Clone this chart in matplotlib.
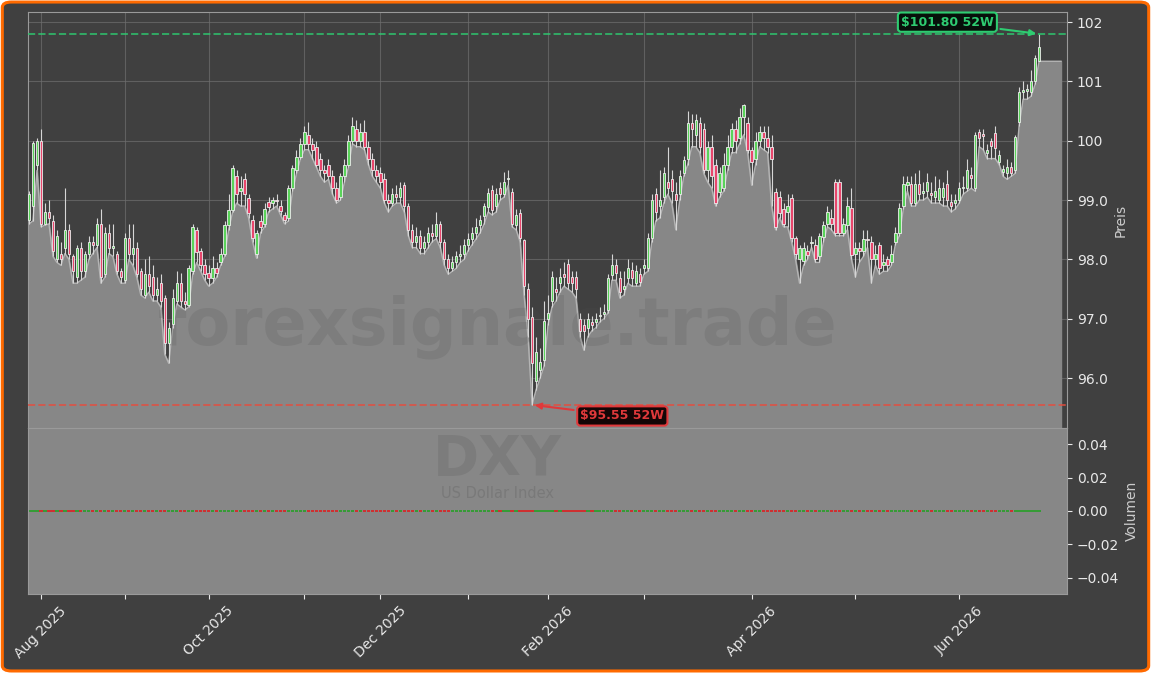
import numpy as np
import matplotlib.pyplot as plt
from matplotlib.patches import FancyBboxPatch
from matplotlib.ticker import FuncFormatter, MultipleLocator

# DXY daily candles
opens = [
    98.66, 98.90, 99.60, 100.00, 98.60, 98.80, 98.65, 98.00, 98.10, 98.20,
    98.50, 98.05, 97.70, 98.20, 97.80, 98.10, 98.30, 98.25, 98.60, 97.75,
    98.45, 98.20, 98.10, 97.80, 97.65, 98.37, 98.10, 98.20, 97.80, 97.40,
    97.75, 97.70, 97.40, 97.60, 97.35, 96.60, 96.92, 97.30, 97.60, 97.30,
    97.23, 97.80, 98.50, 98.15, 97.90, 97.78, 97.68, 97.85, 97.95, 98.10,
    98.58, 98.83, 99.40, 99.15, 99.35, 99.03, 98.66, 98.10, 98.65, 98.60,
    98.97, 98.95, 99.00, 98.90, 98.75, 98.70, 99.20, 99.50, 99.73, 99.95,
    100.10, 99.95, 99.90, 99.70, 99.50, 99.60, 99.40, 99.20, 99.05, 99.40,
    99.60, 100.00, 100.20, 100.00, 100.15, 99.90, 99.70, 99.50, 99.45, 99.35,
    99.00, 98.95, 99.10, 99.05, 99.25, 98.90, 98.50, 98.30, 98.40, 98.20,
    98.30, 98.45, 98.40, 98.60, 98.30, 98.00, 97.85, 97.95, 98.05, 98.10,
    98.25, 98.35, 98.45, 98.58, 98.74, 98.88, 99.17, 98.90, 99.20, 99.10,
    99.35, 99.13, 98.58, 98.78, 98.32, 97.50, 97.03, 95.96, 96.13, 96.30,
    97.00, 97.30, 97.50, 97.60, 97.75, 97.93, 97.70, 97.70, 97.00, 96.90,
    96.85, 96.95, 96.95, 97.05, 97.08, 97.14, 97.73, 97.90, 97.68, 97.50,
    97.68, 97.83, 97.60, 97.76, 97.85, 97.85, 98.36, 99.10, 98.90, 99.05,
    99.30, 99.35, 99.10, 99.10, 99.45, 99.70, 100.30, 100.10, 100.30, 100.20,
    99.50, 99.90, 99.60, 99.13, 99.20, 99.60, 99.90, 100.20, 100.05, 100.40,
    100.30, 99.84, 99.70, 100.00, 100.15, 100.05, 99.90, 99.13, 99.05, 98.85,
    98.80, 99.03, 98.36, 98.00, 97.98, 98.15, 98.28, 98.25, 98.05, 98.38,
    98.60, 98.70, 99.30, 99.30, 98.45, 98.58, 98.86, 98.10, 98.20, 98.15,
    98.35, 98.30, 98.00, 98.24, 97.90, 98.00, 97.95, 98.30, 98.44, 98.90,
    99.25, 99.28, 98.95, 99.27, 99.12, 99.15, 99.12, 99.05, 99.00, 99.05,
    99.27, 98.97, 98.95, 99.00, 99.20, 99.20, 99.42, 99.20, 100.15, 100.12,
    99.80, 100.00, 100.13, 99.64, 99.48, 99.45, 99.55, 99.50, 100.31, 100.82,
    100.84, 100.82, 101.00, 101.34,
]
highs = [
    99.15, 100.00, 100.05, 100.20, 98.95, 99.00, 98.75, 98.50, 98.30, 99.20,
    98.60, 98.10, 98.25, 98.30, 98.15, 98.40, 98.40, 98.70, 98.85, 98.55,
    98.60, 98.60, 98.15, 97.85, 98.45, 98.60, 98.60, 98.30, 97.85, 98.00,
    98.05, 97.90, 97.70, 97.75, 97.40, 96.95, 97.50, 97.80, 97.78, 97.45,
    97.90, 98.60, 98.55, 98.20, 98.00, 97.90, 98.05, 97.95, 98.20, 98.65,
    99.10, 99.60, 99.50, 99.40, 99.45, 99.10, 98.75, 98.50, 98.75, 98.95,
    99.05, 99.05, 99.10, 99.00, 98.80, 99.25, 99.60, 99.85, 100.05, 100.25,
    100.32, 100.05, 100.00, 99.80, 99.60, 99.70, 99.50, 99.30, 99.45, 99.70,
    100.10, 100.40, 100.35, 100.30, 100.35, 100.00, 99.80, 99.60, 99.55, 99.45,
    99.10, 99.20, 99.25, 99.30, 99.30, 98.95, 98.60, 98.55, 98.50, 98.40,
    98.55, 98.60, 98.80, 98.65, 98.35, 98.10, 98.05, 98.15, 98.25, 98.35,
    98.45, 98.55, 98.70, 98.75, 98.95, 99.20, 99.25, 99.20, 99.30, 99.47,
    99.50, 99.20, 98.85, 98.85, 98.35, 97.60, 97.20, 96.70, 96.50, 97.30,
    97.40, 97.80, 97.70, 97.85, 97.95, 98.00, 97.80, 97.80, 97.10, 97.00,
    97.10, 97.05, 97.10, 97.20, 97.25, 97.75, 98.10, 98.00, 97.80, 97.80,
    98.00, 97.95, 97.90, 97.85, 98.00, 98.45, 99.10, 99.20, 99.50, 99.55,
    99.90, 99.50, 99.30, 99.50, 99.75, 100.50, 100.45, 100.45, 100.40, 100.30,
    100.00, 100.10, 99.70, 99.55, 99.80, 100.10, 100.30, 100.35, 100.55, 100.62,
    100.40, 99.90, 100.15, 100.25, 100.25, 100.25, 100.10, 99.20, 99.15, 98.95,
    99.10, 99.10, 98.40, 98.25, 98.30, 98.25, 98.40, 98.35, 98.45, 98.65,
    98.90, 98.85, 99.35, 99.35, 98.70, 99.05, 99.20, 98.30, 98.30, 98.50,
    98.50, 98.40, 98.25, 98.30, 98.10, 98.05, 98.25, 98.55, 98.95, 99.40,
    99.40, 99.40, 99.45, 99.50, 99.30, 99.45, 99.30, 99.40, 99.35, 99.30,
    99.50, 99.10, 99.10, 99.30, 99.40, 99.70, 99.55, 100.15, 100.20, 100.20,
    99.95, 100.05, 100.25, 99.85, 99.60, 99.70, 99.65, 100.10, 100.90, 101.00,
    100.95, 101.20, 101.45, 101.80,
]
lows = [
    98.60, 98.65, 99.50, 98.55, 98.58, 98.60, 98.05, 97.95, 97.90, 98.10,
    98.00, 97.60, 97.60, 97.65, 97.70, 98.00, 98.10, 98.20, 97.60, 97.70,
    98.10, 98.05, 97.75, 97.60, 97.60, 98.00, 97.90, 97.70, 97.40, 97.35,
    97.45, 97.30, 97.30, 97.20, 96.40, 96.25, 96.85, 97.25, 97.20, 97.15,
    97.20, 97.75, 97.95, 97.80, 97.65, 97.55, 97.60, 97.70, 97.90, 98.05,
    98.50, 98.80, 98.95, 98.90, 98.90, 98.70, 98.30, 98.02, 98.45, 98.55,
    98.80, 98.85, 98.90, 98.75, 98.60, 98.65, 99.15, 99.45, 99.70, 99.85,
    99.85, 99.70, 99.55, 99.40, 99.30, 99.35, 99.10, 98.95, 99.00, 99.30,
    99.55, 99.95, 99.90, 99.90, 99.85, 99.60, 99.40, 99.30, 99.20, 98.95,
    98.80, 98.90, 98.95, 98.95, 98.80, 98.40, 98.20, 98.20, 98.10, 98.10,
    98.20, 98.30, 98.35, 98.20, 97.90, 97.75, 97.80, 97.85, 97.95, 98.00,
    98.15, 98.25, 98.35, 98.45, 98.60, 98.80, 98.75, 98.80, 99.00, 99.05,
    99.25, 98.55, 98.50, 98.30, 97.40, 96.70, 95.55, 95.80, 96.00, 96.20,
    96.90, 97.20, 97.30, 97.45, 97.55, 97.50, 97.45, 97.35, 96.70, 96.47,
    96.70, 96.80, 96.85, 96.95, 97.00, 97.10, 97.65, 97.65, 97.35, 97.40,
    97.60, 97.55, 97.55, 97.55, 97.75, 97.80, 98.30, 98.65, 98.70, 98.95,
    99.10, 98.95, 98.50, 99.00, 99.40, 99.60, 99.90, 99.90, 99.80, 99.45,
    99.30, 99.20, 98.90, 99.05, 99.15, 99.50, 99.80, 99.80, 99.95, 100.10,
    99.80, 99.25, 99.60, 99.90, 99.85, 99.80, 98.90, 98.50, 98.70, 98.55,
    98.55, 98.30, 98.00, 97.60, 97.90, 98.00, 98.20, 97.95, 97.95, 98.30,
    98.55, 98.50, 98.40, 98.40, 98.40, 98.50, 98.00, 97.70, 97.95, 98.05,
    98.20, 97.60, 97.90, 97.75, 97.80, 97.80, 97.90, 98.25, 98.40, 98.85,
    99.15, 98.90, 98.90, 99.00, 99.00, 99.05, 98.95, 98.95, 98.95, 98.90,
    98.90, 98.80, 98.85, 98.95, 99.10, 99.15, 99.20, 99.15, 99.90, 99.85,
    99.70, 99.70, 99.70, 99.60, 99.40, 99.35, 99.40, 99.45, 100.25, 100.70,
    100.70, 100.75, 100.95, 101.34,
]
closes = [
    99.10, 99.96, 100.00, 98.60, 98.80, 98.70, 98.15, 98.40, 98.00, 98.50,
    98.10, 97.80, 98.20, 97.80, 98.10, 98.30, 98.25, 98.60, 97.70, 98.45,
    98.20, 98.22, 97.80, 97.70, 98.37, 98.10, 98.20, 97.75, 97.50, 97.75,
    97.55, 97.40, 97.50, 97.30, 96.60, 96.85, 97.35, 97.60, 97.30, 97.25,
    97.85, 98.55, 98.12, 97.90, 97.75, 97.68, 97.85, 97.78, 98.10, 98.58,
    98.83, 99.54, 99.10, 99.20, 99.10, 98.78, 98.37, 98.44, 98.55, 98.85,
    98.88, 99.00, 98.98, 98.82, 98.66, 99.20, 99.54, 99.73, 99.95, 100.15,
    99.95, 99.85, 99.60, 99.50, 99.45, 99.40, 99.20, 99.00, 99.40, 99.60,
    100.00, 100.25, 100.00, 100.15, 99.90, 99.70, 99.50, 99.40, 99.30, 99.00,
    98.95, 99.10, 99.05, 99.20, 98.90, 98.50, 98.30, 98.40, 98.20, 98.30,
    98.45, 98.40, 98.60, 98.30, 98.00, 97.85, 97.95, 98.05, 98.10, 98.25,
    98.35, 98.45, 98.55, 98.66, 98.90, 99.12, 98.83, 99.10, 99.10, 99.30,
    99.38, 98.60, 98.75, 98.36, 97.56, 97.00, 96.25, 96.44, 96.27, 96.97,
    97.10, 97.70, 97.45, 97.70, 97.70, 97.60, 97.60, 97.50, 96.80, 96.80,
    97.00, 96.90, 97.00, 97.07, 97.12, 97.68, 97.90, 97.78, 97.45, 97.55,
    97.85, 97.68, 97.80, 97.62, 97.90, 98.36, 99.00, 98.80, 99.00, 99.45,
    99.20, 99.15, 99.00, 99.40, 99.67, 100.30, 100.20, 100.35, 99.90, 99.50,
    99.90, 99.40, 98.95, 99.45, 99.60, 99.90, 100.20, 100.00, 100.40, 100.60,
    99.84, 99.64, 100.00, 100.15, 100.05, 99.90, 99.70, 98.55, 98.78, 98.60,
    98.90, 98.36, 98.10, 98.20, 98.20, 98.08, 98.30, 98.00, 98.40, 98.58,
    98.80, 98.60, 98.44, 98.45, 98.60, 98.90, 98.07, 98.20, 98.15, 98.35,
    98.33, 98.00, 98.10, 97.85, 97.95, 97.90, 98.10, 98.45, 98.86, 99.28,
    99.30, 98.95, 99.28, 99.10, 99.15, 99.30, 99.08, 99.15, 99.20, 99.20,
    99.00, 98.90, 99.00, 99.20, 99.22, 99.50, 99.38, 100.10, 100.05, 100.08,
    99.85, 99.92, 99.87, 99.76, 99.52, 99.55, 99.45, 100.07, 100.82, 100.86,
    100.87, 101.00, 101.40, 101.58,
]
volumes = [0.0] * 254  # index has no volume

month_pos = [3, 24, 45, 69, 88, 110, 130, 154, 181, 207, 233]
month_labels = ["Aug 2025", "", "Oct 2025", "", "Dec 2025", "",
                "Feb 2026", "", "Apr 2026", "", "Jun 2026"]
symbol = "DXY"
symbol_name = "US Dollar Index"

o = np.array(opens)
h = np.array(highs)
l = np.array(lows)
c = np.array(closes)
x = np.arange(len(c))
up = c >= o

W = 1151
H = 673
fig = plt.figure(figsize=(W / 100, H / 100), dpi=100, facecolor="white")
fig.add_artist(FancyBboxPatch((0.002, 0.003), 0.996, 0.994,
                              boxstyle="round,pad=0,rounding_size=0.008",
                              transform=fig.transFigure, facecolor="#404040",
                              edgecolor="#ff6a00", linewidth=2.2, zorder=-10))

left = 28 / W
width = (1067 - 28) / W
ax = fig.add_axes([left, 1 - 428 / H, width, (428 - 12) / H])
ax_vol = fig.add_axes([left, 1 - 594 / H, width, (594 - 428) / H], sharex=ax)
ax.set_facecolor("#404040")
ax_vol.set_facecolor("#878787")

# area under the lows, carried flat a few bars past the last candle
x_fill = np.append(x, x[-1] + 5.5)
low_fill = np.append(l, l[-1])
ax.fill_between(x_fill, low_fill, 94.0, color="#878787", zorder=1)
ax.plot(x_fill, low_fill, color="#b4b4b4", lw=1.0, zorder=2)

# candles
ax.vlines(x, l, h, color="#d6d6d6", lw=0.8, zorder=3)
ax.bar(x[up], (c - o)[up], bottom=o[up], width=0.6, color="#5ad35a",
       edgecolor="#eeeeee", linewidth=0.6, zorder=4)
ax.bar(x[~up], (c - o)[~up], bottom=o[~up], width=0.6, color="#e8466c",
       edgecolor="#eeeeee", linewidth=0.6, zorder=4)

# 52 week high / low
i_hi = int(np.argmax(h))
i_lo = int(np.argmin(l))
hi = h[i_hi]
lo = l[i_lo]
ax.axhline(hi, color="#2ecc71", ls="--", lw=1.4, alpha=0.75, zorder=5)
ax.axhline(lo, color="#e74c3c", ls="--", lw=1.4, alpha=0.75, zorder=5)
ax.annotate(f"${hi:.2f} 52W", xy=(i_hi, hi), xytext=(-66, 8.5),
            textcoords="offset points", ha="center", va="center",
            fontsize=9, fontweight="bold", color="#2ecc71",
            bbox=dict(boxstyle="round,pad=0.25", fc="#07100a", ec="#2ecc71", lw=1.5),
            arrowprops=dict(arrowstyle="-|>", color="#2ecc71", lw=1.5),
            zorder=8)
ax.annotate(f"${lo:.2f} 52W", xy=(i_lo, lo), xytext=(65, -8),
            textcoords="offset points", ha="center", va="center",
            fontsize=9, fontweight="bold", color="#e0393b",
            bbox=dict(boxstyle="round,pad=0.25", fc="#140606", ec="#e0393b", lw=1.5),
            arrowprops=dict(arrowstyle="-|>", color="#e0393b", lw=1.5),
            zorder=8)

# watermarks
ax.text(0.432, 1 - 327 / H, "forexsignale.trade", transform=fig.transFigure,
        fontsize=47, fontweight="bold", color="#505050", alpha=0.18,
        ha="center", va="center", zorder=2.5)
ax_vol.text(0.432, 1 - 460 / H, symbol, transform=fig.transFigure,
            fontsize=40, fontweight="bold", color="#505050", alpha=0.2,
            ha="center", va="center")
ax_vol.text(0.432, 1 - 494 / H, symbol_name, transform=fig.transFigure,
            fontsize=10.5, color="#505050", alpha=0.25, ha="center", va="center")

# volume
vol_colors = np.where(up, "#2e9e2e", "#d62728")
ax_vol.bar(x, volumes, width=0.8, color=vol_colors, edgecolor=vol_colors, linewidth=1.3)
ax_vol.set_ylim(-0.0496, 0.0496)

# axes styling
ax.set_xlim(-0.25, 260)
ax.set_ylim(95.16, 102.17)
ax.yaxis.set_major_locator(MultipleLocator(1))
ax.yaxis.set_major_formatter(FuncFormatter(lambda v, p: f"{v:.0f}" if v >= 100 else f"{v:.1f}"))
ax.grid(True, color="#6e6e6e", lw=0.8, alpha=0.7)
ax.set_axisbelow(True)
ax.tick_params(axis="x", bottom=False, labelbottom=False)

ax_vol.set_xticks(month_pos)
ax_vol.set_xticklabels(month_labels, rotation=45)

for a, name in ((ax, "Preis"), (ax_vol, "Volumen")):
    a.yaxis.tick_right()
    a.yaxis.set_label_position("right")
    a.set_ylabel(name, color="#cccccc", fontsize=10)
    a.tick_params(colors="#e8e8e8", labelsize=10)
    for s in a.spines.values():
        s.set_color("#9a9a9a")
        s.set_linewidth(0.8)

fig.savefig("out.png", dpi=100, facecolor=fig.get_facecolor())
